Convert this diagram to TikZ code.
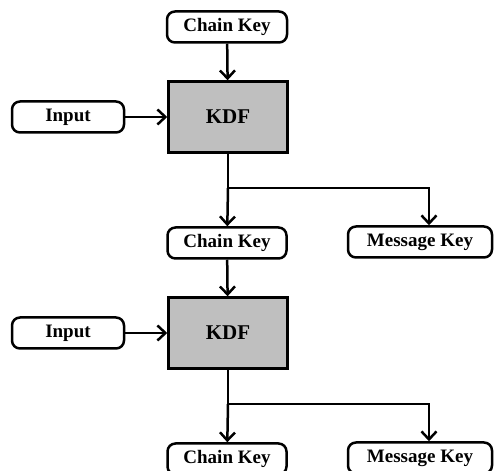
\documentclass[tikz,border=0pt]{standalone}
\usepackage{fontspec}
\setmainfont{Liberation Serif}
\usetikzlibrary{arrows.meta}
\begin{document}
\begin{tikzpicture}[
x=1pt,y=1pt,
key/.style={draw,line width=2.5pt,rounded corners=8pt,minimum height=31pt,inner sep=0pt,font=\fontsize{19}{21}\selectfont\bfseries},
kdf/.style={draw,line width=2.5pt,fill=black!25,minimum width=119pt,minimum height=71pt,font=\fontsize{21}{23}\selectfont\bfseries},
ln/.style={line width=2.5pt},
arw/.style={-{Straight Barb[length=8pt,width=15pt,line width=2.5pt]},line width=2.5pt}
]
\useasboundingbox(0,0)rectangle(504,471);
%\draw[help lines,step=50](0,0)grid(504,471);

% first step
\node[key,minimum width=120pt]at(227,444)(ck0){Chain Key};
\node[kdf]at(228,354)(kdf1){KDF};
\node[key,minimum width=112pt]at(68,354)(in1){Input};
\node[key,minimum width=119pt]at(227,228)(ck1){Chain Key};
\node[key,minimum width=144pt]at(420,229)(mk1){Message Key};
\coordinate(j1)at(228,283);
\draw[arw](ck0)--(kdf1);
\draw[arw](in1)--(kdf1);
\draw[ln](kdf1)--(j1);
\draw[arw](j1)--(ck1);
\draw[arw](j1)-|([xshift=9pt]mk1.north);

% second step
\node[kdf]at(228,138)(kdf2){KDF};
\node[key,minimum width=112pt]at(68,138)(in2){Input};
\node[key,minimum width=119pt]at(227,12)(ck2){Chain Key};
\node[key,minimum width=144pt]at(420,13)(mk2){Message Key};
\coordinate(j2)at(228,67);
\draw[arw](ck1)--(kdf2);
\draw[arw](in2)--(kdf2);
\draw[ln](kdf2)--(j2);
\draw[arw](j2)--(ck2);
\draw[arw](j2)-|([xshift=9pt]mk2.north);

\end{tikzpicture}
\end{document}
